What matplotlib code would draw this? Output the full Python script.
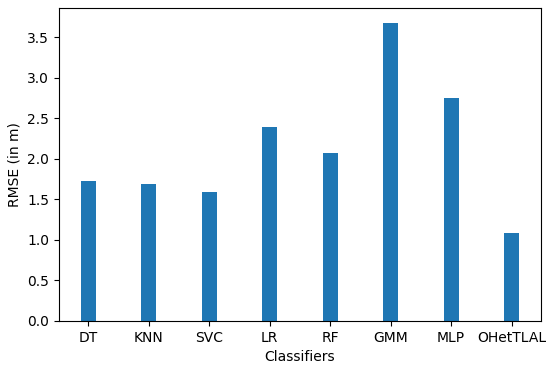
import matplotlib
matplotlib.use("Agg")
import matplotlib.pyplot as plt

classifiers = ["DT", "KNN", "SVC", "LR", "RF", "GMM", "MLP", "OHetTLAL"]
rmse = [1.73, 1.69, 1.59, 2.40, 2.08, 3.68, 2.755, 1.09]

fig = plt.figure(figsize=(5.5, 3.71), dpi=100)
ax = fig.add_axes([59/550, 1 - 321/371, (541-59)/550, (321-8)/371])
ax.bar(range(len(classifiers)), rmse, width=0.25, color="#1f77b4")
ax.set_xticks(range(len(classifiers)))
ax.set_xticklabels(classifiers)
ax.set_xlabel("Classifiers")
ax.set_ylabel("RMSE (in m)")
fig.savefig("out.png", dpi=100)
